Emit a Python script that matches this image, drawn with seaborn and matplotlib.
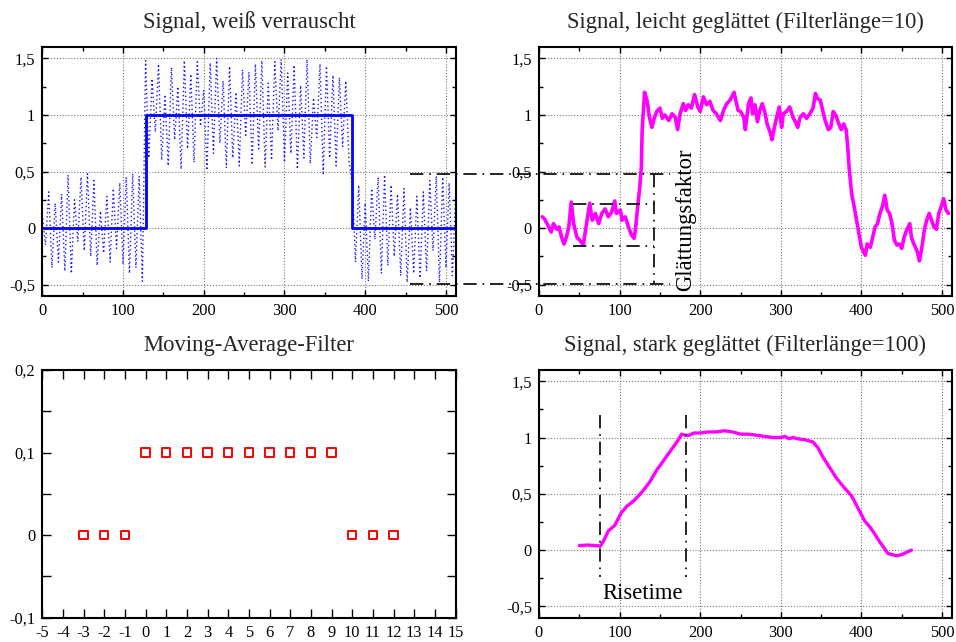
import matplotlib
matplotlib.use("Agg")
import matplotlib.pyplot as plt
from matplotlib.ticker import FuncFormatter, MultipleLocator
import pandas as pd
import seaborn as sns

# ---------------------------------------------------------------- data
# noisy input signal, one value every 4 samples (n = 0, 4, ..., 512)
noisy_n = list(range(0, 513, 4))
noisy = [
    # n = 0 .. 124
    0.12, -0.15, 0.32, -0.35, 0.22, -0.30, 0.30, -0.38, 0.47, -0.40, 0.25, -0.12, 0.45, -0.20, 0.48, -0.25,
    0.42, -0.33, 0.15, -0.22, 0.28, -0.30, 0.35, -0.18, 0.40, -0.32, 0.45, -0.40, 0.48, -0.35, 0.46, -0.47,
    # n = 128 .. 380
    1.48, 0.62, 1.32, 0.85, 1.45, 0.60, 1.18, 0.55, 1.42, 0.78, 1.25, 0.52, 1.48, 0.70, 1.36, 0.58,
    1.47, 0.90, 1.22, 0.51, 1.46, 0.66, 1.50, 0.75, 1.30, 0.53, 1.43, 0.62, 1.20, 0.55, 1.40, 0.82,
    1.38, 0.56, 1.45, 0.70, 1.48, 0.54, 1.28, 0.60, 1.47, 0.86, 1.49, 0.58, 1.37, 0.66, 1.44, 0.52,
    1.26, 0.62, 1.49, 0.57, 1.15, 0.80, 1.45, 0.47, 1.43, 0.62, 1.35, 0.55, 1.33, 0.72, 1.30, 0.58,
    # n = 384 .. 512
    0.40, -0.30, 0.38, -0.45, 0.22, -0.47, 0.35, -0.10, 0.45, -0.40, 0.47, -0.33, 0.38, -0.25, 0.30, -0.42,
    0.35, -0.48, 0.18, -0.40, 0.28, -0.44, 0.32, -0.38, 0.42, -0.20, 0.46, -0.48, 0.45, -0.35, 0.40, -0.42,
    0.30,
]

# clean rectangular pulse
pulse_x = [0, 128, 128, 384, 384, 512]
pulse_y = [0, 0, 1, 1, 0, 0]

# lightly smoothed signal (filter length 10)
light_x = [4, 7, 12, 15, 18, 22, 25, 28, 31, 34,
           37, 40, 43, 47, 51, 55, 59, 63, 66, 70,
           74, 78, 82, 86, 90, 94, 96, 101, 103, 107,
           111, 115, 118, 120, 122, 125, 127, 128, 131, 134,
           137, 140, 143, 146, 150, 153, 156, 161, 165, 169,
           172, 175, 179, 182, 185, 189, 193, 197, 200, 204,
           208, 212, 216, 220, 225, 229, 233, 237, 242, 247,
           250, 254, 256, 260, 263, 265, 268, 271, 274, 277,
           280, 283, 287, 289, 292, 295, 298, 301, 303, 307,
           311, 315, 318, 321, 324, 328, 332, 336, 340, 343,
           345, 349, 352, 355, 359, 362, 365, 368, 372, 375,
           378, 381, 383, 385, 388, 391, 394, 397, 400, 402,
           405, 407, 411, 414, 417, 420, 423, 426, 429, 432,
           435, 438, 441, 444, 447, 450, 453, 456, 460, 462,
           465, 469, 472, 475, 478, 481, 484, 487, 490, 493,
           496, 499, 502, 505, 508]
light_y = [0.10, 0.08, 0.01, -0.035, 0.04, -0.01, 0.01, -0.08, -0.14, -0.08,
           0.01, 0.23, 0.04, -0.08, -0.11, -0.15, 0.04, 0.22, 0.07, 0.13,
           0.04, 0.13, 0.17, 0.10, 0.14, 0.24, 0.13, 0.16, 0.07, 0.10,
           0.01, -0.065, -0.09, 0.01, 0.16, 0.36, 0.54, 0.87, 1.20, 1.13,
           0.98, 0.89, 0.97, 1.03, 1.06, 0.97, 1.00, 0.95, 1.01, 0.98,
           0.87, 1.01, 1.10, 1.04, 1.09, 1.06, 1.18, 1.07, 1.03, 1.16,
           1.09, 1.12, 1.04, 1.01, 0.95, 1.04, 1.10, 1.13, 1.20, 1.04,
           1.03, 0.98, 0.87, 1.10, 1.15, 1.01, 1.09, 0.94, 1.04, 1.10,
           1.03, 0.92, 0.84, 0.78, 0.89, 0.98, 1.07, 0.89, 1.01, 1.03,
           1.07, 0.98, 0.94, 0.89, 0.98, 1.01, 0.97, 1.01, 1.06, 1.19,
           1.15, 1.13, 1.04, 0.95, 0.87, 0.89, 1.03, 1.00, 0.92, 0.87,
           0.92, 0.87, 0.72, 0.51, 0.30, 0.19, 0.07, -0.05, -0.17, -0.20,
           -0.24, -0.14, -0.17, -0.08, 0.01, 0.04, 0.13, 0.19, 0.29, 0.16,
           0.13, 0.04, -0.11, -0.15, -0.14, -0.18, -0.08, -0.02, 0.04, -0.08,
           -0.14, -0.20, -0.29, -0.17, -0.02, 0.07, 0.13, 0.07, 0.01, -0.01,
           0.13, 0.19, 0.26, 0.16, 0.13]

# moving-average filter coefficients
filt_n = [-3, -2, -1, 0, 1, 2, 3, 4, 5, 6, 7, 8, 9, 10, 11, 12]
filt_h = [0, 0, 0, 0.1, 0.1, 0.1, 0.1, 0.1, 0.1, 0.1, 0.1, 0.1, 0.1, 0, 0, 0]

# strongly smoothed signal (filter length 100)
strong_x = [50, 60, 70, 76, 80, 86, 94, 102, 109, 118,
            127, 137, 146, 155, 165, 172, 177, 182, 186, 192,
            200, 210, 220, 230, 240, 250, 260, 270, 280, 290,
            300, 305, 310, 315, 320, 330, 340, 346, 352, 360,
            369, 378, 388, 396, 404, 410, 415, 423, 433, 438,
            444, 450, 456, 462]
strong_y = [0.04, 0.045, 0.04, 0.035, 0.08, 0.17, 0.22, 0.33, 0.39, 0.44,
            0.51, 0.60, 0.71, 0.80, 0.90, 0.97, 1.03, 1.02, 1.02, 1.04,
            1.04, 1.05, 1.05, 1.06, 1.05, 1.03, 1.03, 1.02, 1.01, 1.00,
            1.00, 1.01, 0.99, 1.00, 0.99, 0.98, 0.96, 0.91, 0.83, 0.74,
            0.64, 0.56, 0.48, 0.37, 0.26, 0.21, 0.16, 0.07, -0.03, -0.04,
            -0.05, -0.04, -0.02, 0.00]

titles = ["Signal, weiß verrauscht",
          "Signal, leicht geglättet (Filterlänge=10)",
          "Moving-Average-Filter",
          "Signal, stark geglättet (Filterlänge=100)"]

# ---------------------------------------------------------------- style
sns.set_theme(style="ticks")
plt.rcParams.update({
    "font.family": ["Liberation Serif", "DejaVu Serif"],
    "axes.unicode_minus": False,
    "axes.linewidth": 1.5,
    "axes.edgecolor": "black",
    "xtick.color": "black",
    "ytick.color": "black",
    "xtick.direction": "in",
    "ytick.direction": "in",
    "xtick.top": True,
    "ytick.right": True,
    "xtick.labelsize": 11.8,
    "ytick.labelsize": 11.8,
    "axes.titlesize": 16.3,
    "axes.titlepad": 13.5,
})

SIG = (-0.6, 1.6)
DASHDOT = (0, (8, 3.5, 1, 3.5))


def comma(v, pos):
    v = round(v, 4)
    s = f"{v:g}"
    return s.replace(".", ",")


def style_signal_axes(ax):
    ax.set_xlim(0, 512)
    ax.set_ylim(*SIG)
    ax.xaxis.set_major_locator(MultipleLocator(100))
    ax.xaxis.set_minor_locator(MultipleLocator(50))
    ax.yaxis.set_major_locator(MultipleLocator(0.5))
    ax.yaxis.set_minor_locator(MultipleLocator(0.25))
    ax.yaxis.set_major_formatter(FuncFormatter(comma))
    ax.tick_params(which="major", length=4, width=1, pad=5)
    ax.tick_params(which="minor", length=3, width=1)
    ax.grid(True, which="major", color="#777777", linestyle=(0, (1, 1.6)), linewidth=0.8)
    ax.set_axisbelow(True)
    ax.set_xlabel("")
    ax.set_ylabel("")


fig = plt.figure(figsize=(9.56, 6.42), dpi=100)
ax_tl = fig.add_axes([0.0442, 0.5389, 0.4324, 0.3879])
ax_tr = fig.add_axes([0.5638, 0.5389, 0.4317, 0.3879])
ax_bl = fig.add_axes([0.0442, 0.0379, 0.4324, 0.3858])
ax_br = fig.add_axes([0.5638, 0.0379, 0.4317, 0.3858])

# ---------------------------------------------------------------- noisy signal
df_noisy = pd.DataFrame({"n": noisy_n, "x": noisy})
df_pulse = pd.DataFrame({"n": pulse_x, "x": pulse_y})
sns.lineplot(data=df_noisy, x="n", y="x", ax=ax_tl, color="#1a1aff",
             linewidth=1.0, linestyle=(0, (1, 2)), estimator=None, sort=False)
sns.lineplot(data=df_pulse, x="n", y="x", ax=ax_tl, color="#0000ff",
             linewidth=2.0, estimator=None, sort=False)
style_signal_axes(ax_tl)
ax_tl.set_title(titles[0])

# ---------------------------------------------------------------- lightly smoothed
df_light = pd.DataFrame({"n": light_x, "x": light_y})
sns.lineplot(data=df_light, x="n", y="x", ax=ax_tr, color="#ff00ff",
             linewidth=2.6, estimator=None, sort=False)
style_signal_axes(ax_tr)
ax_tr.set_title(titles[1])

# smoothing-factor bracket, reaching across into the left panel
kw = dict(color="black", linewidth=1.2, linestyle=DASHDOT, clip_on=False, zorder=5)
ax_tr.plot([-160, 162], [0.48, 0.48], **kw)
ax_tr.plot([-160, 162], [-0.49, -0.49], **kw)
ax_tr.plot([143, 143], [0.48, -0.49], **kw)
ax_tr.plot([42, 143], [0.215, 0.215], **kw)
ax_tr.plot([42, 143], [-0.155, -0.155], **kw)
ax_tr.text(182, -0.555, "Glättungsfaktor", rotation=90, ha="center", va="bottom",
           fontsize=16.3, color="black")

# ---------------------------------------------------------------- filter
df_filt = pd.DataFrame({"k": filt_n, "h": filt_h})
sns.scatterplot(data=df_filt, x="k", y="h", ax=ax_bl, marker="s", s=36,
                facecolor="none", edgecolor="#ff0000", linewidth=1.4)
ax_bl.set_xlim(-5, 15)
ax_bl.set_ylim(-0.1, 0.2)
ax_bl.xaxis.set_major_locator(MultipleLocator(1))
ax_bl.yaxis.set_major_locator(MultipleLocator(0.1))
ax_bl.yaxis.set_minor_locator(MultipleLocator(0.05))
ax_bl.xaxis.set_major_formatter(FuncFormatter(comma))
ax_bl.yaxis.set_major_formatter(FuncFormatter(comma))
ax_bl.tick_params(which="both", length=6.5, width=1, pad=5)
ax_bl.set_xlabel("")
ax_bl.set_ylabel("")
ax_bl.set_title(titles[2])

# ---------------------------------------------------------------- strongly smoothed
df_strong = pd.DataFrame({"n": strong_x, "x": strong_y})
sns.lineplot(data=df_strong, x="n", y="x", ax=ax_br, color="#ff00ff",
             linewidth=2.4, estimator=None, sort=False)
style_signal_axes(ax_br)
ax_br.set_title(titles[3])
kw2 = dict(color="black", linewidth=1.2, linestyle=DASHDOT, zorder=5)
ax_br.plot([76, 76], [1.2, -0.24], **kw2)
ax_br.plot([182, 182], [1.2, -0.24], **kw2)
ax_br.text(79, -0.43, "Risetime", ha="left", va="baseline", fontsize=16.3, color="black")

fig.savefig("out.png", dpi=100)
